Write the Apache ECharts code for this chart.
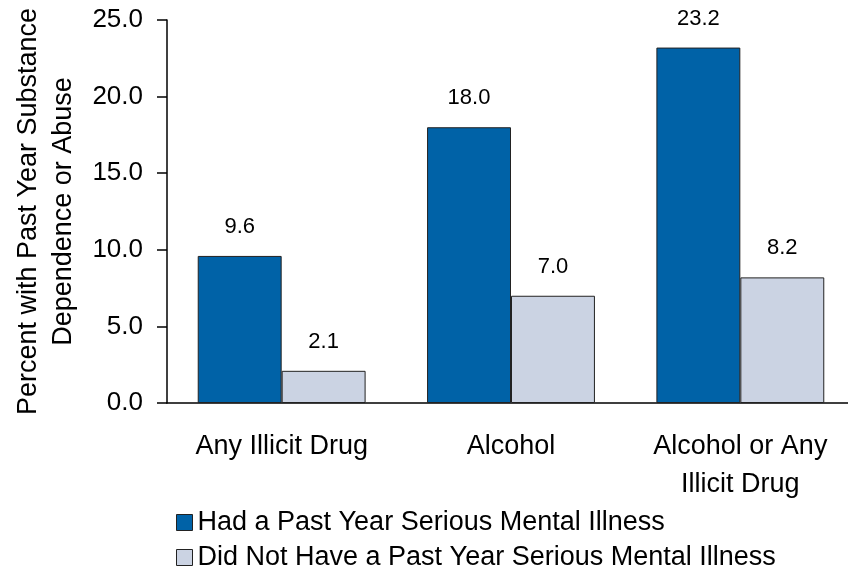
<!DOCTYPE html>
<html><head><meta charset="utf-8">
<script src="https://cdn.jsdelivr.net/npm/echarts@6/dist/echarts.min.js"></script>
<style>html,body{margin:0;padding:0;background:#fff;overflow:hidden;}#c{width:855px;height:575px;}</style>
</head><body><div id="c"></div>
<script>
var categories = ['Any Illicit Drug', 'Alcohol', 'Alcohol or Any\nIllicit Drug'];
var seriesNames = ['Had a Past Year Serious Mental Illness', 'Did Not Have a Past Year Serious Mental Illness'];
var hadSMI = [9.6, 18.0, 23.2];
var noSMI = [2.1, 7.0, 8.2];
var yTicks = [0, 5, 10, 15, 20, 25];
var yAxisTitle = 'Percent with Past Year Substance\nDependence or Abuse';

var font = 'Liberation Sans, Arial, sans-serif';
var chart = echarts.init(document.getElementById('c'), null, {renderer: 'canvas'});
function barSeries(name, data, color) {
  return {
    name: name, type: 'bar', data: data, barWidth: '36.6%', barGap: '0%',
    itemStyle: {color: color, borderColor: '#222', borderWidth: 1},
    label: {show: true, position: 'top', distance: 18, color: '#000', fontFamily: font, fontSize: 22,
      formatter: function (p) { return p.value.toFixed(1); }}
  };
}
function legendFor(name, top) {
  return {
    orient: 'vertical', left: 171, top: top, itemWidth: 16, itemHeight: 16,
    icon: 'rect', textStyle: {fontFamily: font, fontSize: 27, color: '#000'},
    itemStyle: {borderColor: '#222', borderWidth: 1},
    data: [name]
  };
}
chart.setOption({
  animation: false,
  textStyle: {fontFamily: font},
  grid: {left: 167, top: 20, right: 0, bottom: 172, containLabel: false},
  legend: [legendFor(seriesNames[0], 504), legendFor(seriesNames[1], 539)],
  xAxis: {
    type: 'category', data: categories,
    axisLine: {lineStyle: {color: '#000', width: 1.5}},
    axisTick: {show: false},
    axisLabel: {color: '#000', fontFamily: font, fontSize: 27, lineHeight: 38, margin: 25, interval: 0}
  },
  yAxis: {
    type: 'value', min: yTicks[0], max: yTicks[yTicks.length - 1], interval: 5,
    name: yAxisTitle, nameLocation: 'middle', nameGap: 81,
    nameTextStyle: {color: '#000', fontFamily: font, fontSize: 27, lineHeight: 35},
    axisLine: {show: true, lineStyle: {color: '#000', width: 1.5}},
    axisTick: {show: true, length: 10, lineStyle: {color: '#000', width: 1.5}},
    splitLine: {show: false},
    axisLabel: {color: '#000', fontFamily: font, fontSize: 26, margin: 24,
      formatter: function (v) { return v.toFixed(1); }}
  },
  series: [barSeries(seriesNames[0], hadSMI, '#0062A7'), barSeries(seriesNames[1], noSMI, '#CBD3E3')]
});
</script></body></html>
